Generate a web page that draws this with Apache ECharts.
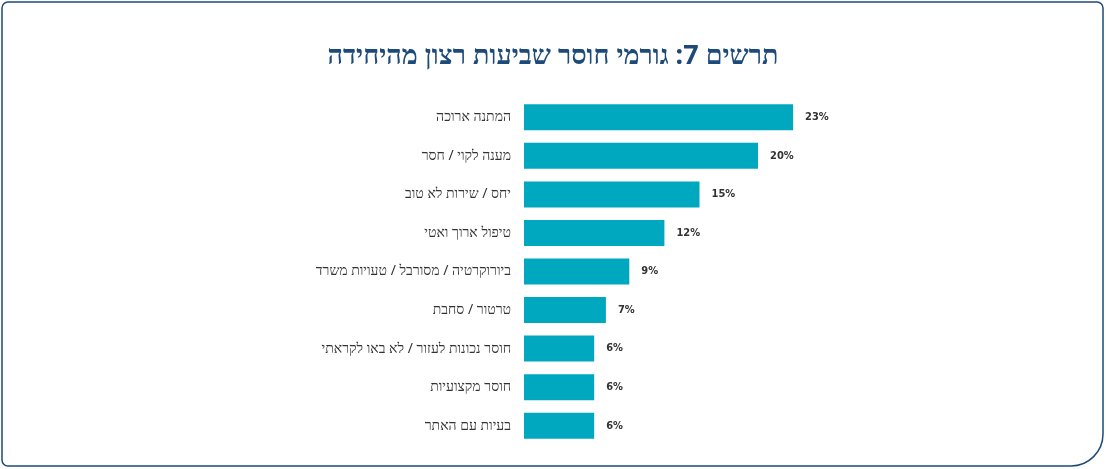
<!DOCTYPE html>
<html><head><meta charset="utf-8">
<script src="https://cdn.jsdelivr.net/npm/echarts@6/dist/echarts.min.js"></script>
<style>html,body{margin:0;padding:0;background:#fff}#c{width:1106px;height:469px}</style>
</head><body><div id="c"></div>
<script>
const categories = ["המתנה ארוכה","מענה לקוי / חסר","יחס / שירות לא טוב","טיפול ארוך ואטי","ביורוקרטיה / מסורבל / טעויות משרד","טרטור / סחבת","חוסר נכונות לעזור / לא באו לקראתי","חוסר מקצועיות","בעיות עם האתר"];
const values = [23,20,15,12,9,7,6,6,6];
const title = "תרשים 7: גורמי חוסר שביעות רצון מהיחידה";
const chart = echarts.init(document.getElementById('c'));
chart.setOption({
  animation:false,
  title:{text:title,left:'center',top:38,textStyle:{color:'#1d4a78',fontSize:27,fontWeight:'bold',fontFamily:'Noto Sans'}},
  graphic:[{type:'rect',shape:{x:2,y:2,width:1101,height:464,r:[6,6,32,6]},style:{fill:'none',stroke:'#1d4a78',lineWidth:1.5}}],
  grid:{left:524,right:114,top:98,bottom:24},
  xAxis:{type:'value',min:0,max:40,show:false},
  yAxis:{type:'category',data:categories,inverse:true,axisLine:{show:false},axisTick:{show:false},
    axisLabel:{color:'#333',fontSize:14,margin:13,fontFamily:'Noto Sans'}},
  series:[{type:'bar',data:values,barWidth:26,itemStyle:{color:'#00a8bf'},
    label:{show:true,position:'right',distance:12,formatter:'{c}%',color:'#333',fontWeight:'bold',fontSize:11,fontFamily:'DejaVu Sans Condensed'}}]
});
</script></body></html>
